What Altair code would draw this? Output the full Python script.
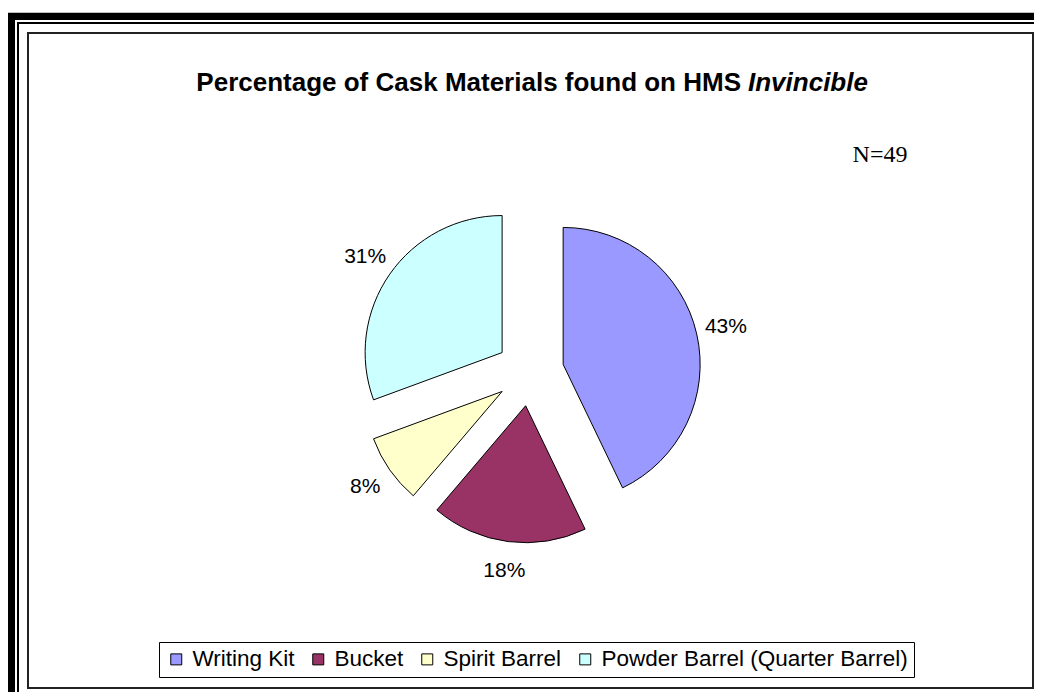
import altair as alt
import pandas as pd

# ---- data ----
categories = ["Writing Kit", "Bucket", "Spirit Barrel", "Powder Barrel (Quarter Barrel)"]
counts = [21, 9, 4, 15]
colors = ["#9999FF", "#993366", "#FFFFCC", "#CCFFFF"]
title_main = "Percentage of Cask Materials found on HMS"
title_italic = "Invincible"
note_text = ["N=49"]

# ---- layout constants (view coords = page coords - 8) ----
W, H = 1026, 684
CX, CY = 522, 364
R = 137
EXPLODE = 34
LABEL_R = 201
FONT = "Liberation Sans"

df = pd.DataFrame({"category": categories, "count": counts,
                   "order": list(range(len(categories)))})

base = (
    alt.Chart(df)
    .transform_joinaggregate(total="sum(count)")
    .transform_window(cum="sum(count)", sort=[alt.SortField("order")], frame=[None, 0])
    .transform_calculate(
        start="2*PI*(datum.cum - datum.count)/datum.total",
        end="2*PI*datum.cum/datum.total",
    )
    .transform_calculate(mid="(datum.start + datum.end)/2")
    .transform_calculate(
        px=f"{CX} + {EXPLODE}*sin(datum.mid)",
        py=f"{CY} - {EXPLODE}*cos(datum.mid)",
        lx=f"{CX} + {LABEL_R}*sin(datum.mid)",
        ly=f"{CY} - {LABEL_R}*cos(datum.mid)",
        pct="format(datum.count/datum.total, '.0%')",
    )
)

arcs = base.mark_arc(radius=R, stroke="black", strokeWidth=1, opacity=1).encode(
    theta=alt.Theta("start:Q", scale=None),
    theta2="end:Q",
    x=alt.X("px:Q", scale=None, axis=None),
    y=alt.Y("py:Q", scale=None, axis=None),
    color=alt.Color(
        "category:N",
        scale=alt.Scale(domain=categories, range=colors),
        legend=alt.Legend(
            orient="none", legendX=151, legendY=634, direction="horizontal",
            title=None, strokeColor="black", padding=6,
            symbolType="square", symbolSize=121, symbolStrokeColor="black",
            symbolStrokeWidth=1, symbolOpacity=1,
            labelFont=FONT, labelFontSize=22.5, labelColor="black",
            labelOffset=5, columnPadding=12, labelLimit=700,
        ),
    ),
)

labels = base.mark_text(font=FONT, fontSize=21, baseline="middle", align="center",
                        color="black").encode(
    x=alt.X("lx:Q", scale=None, axis=None),
    y=alt.Y("ly:Q", scale=None, axis=None),
    text="pct:N",
)

one = pd.DataFrame({"k": [0]})

def rect(x, x2, y, y2, color="black"):
    return alt.Chart(one).mark_rect(color=color).encode(
        x=alt.value(x), x2=alt.value(x2), y=alt.value(y), y2=alt.value(y2))

borders = [
    rect(0, W, 4, 5, "#bdbdbd"),
    rect(0, W, 5, 12),
    rect(0, 7, 5, H),
    rect(9, W, 14, 16),
    rect(9, 11, 14, H),
    alt.Chart(one).mark_rect(fillOpacity=0, stroke="#222222", strokeWidth=2).encode(
        x=alt.value(20), x2=alt.value(1025), y=alt.value(25), y2=alt.value(680)),
]

X_SPLIT = 733
TITLE_Y = 83
title1 = alt.Chart(pd.DataFrame({"t": [title_main]})).mark_text(
    font=FONT, fontSize=26, fontWeight="bold", align="right", baseline="alphabetic",
    color="black").encode(x=alt.value(X_SPLIT), y=alt.value(TITLE_Y), text="t:N")
title2 = alt.Chart(pd.DataFrame({"t": [title_italic]})).mark_text(
    font=FONT, fontSize=26, fontWeight="bold", fontStyle="italic", align="left",
    baseline="alphabetic", color="black").encode(
    x=alt.value(X_SPLIT + 7), y=alt.value(TITLE_Y), text="t:N")

note = alt.Chart(pd.DataFrame({"t": note_text})).mark_text(
    font="Liberation Serif", fontSize=24, align="center", baseline="alphabetic",
    color="black").encode(x=alt.value(872), y=alt.value(154), text="t:N")

chart = alt.layer(*borders, arcs, labels, title1, title2, note).properties(
    width=W, height=H, padding=0,
    autosize=alt.AutoSizeParams(type="none"),
    background="white",
).configure_view(stroke=None)

chart.save("out.html", embed_options={"renderer": "svg", "actions": False})
